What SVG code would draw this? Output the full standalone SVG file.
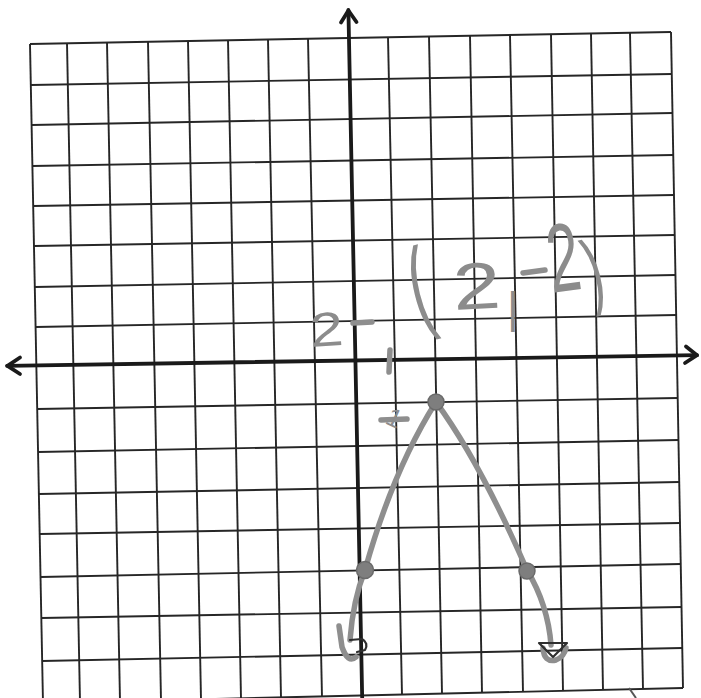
<svg xmlns="http://www.w3.org/2000/svg" width="701" height="698" viewBox="0 0 701 698">
<style>
.g{stroke:#262626;stroke-width:1.9;fill:none}
.ax{stroke:#1a1a1a;stroke-width:3.8;fill:none;stroke-linecap:round;stroke-linejoin:round}
.p{stroke:#8e8e8e;stroke-width:5.5;fill:none;stroke-linecap:round;stroke-linejoin:round}
.pt{fill:#7e7e7e;stroke:#6a6a6a;stroke-width:1.5}
.ink{stroke:#2e2e2e;stroke-width:2.2;fill:none;stroke-linecap:round;stroke-linejoin:round}
.hw{font-family:"Liberation Sans","DejaVu Sans",sans-serif;fill:#8c8c8c}
</style>
<rect width="701" height="698" fill="#ffffff"/>
<g id="grid">
<line class="g" x1="30" y1="44" x2="43" y2="703"/>
<line class="g" x1="67" y1="43.25" x2="80" y2="702.1"/>
<line class="g" x1="107" y1="42.5" x2="120" y2="701.1"/>
<line class="g" x1="148" y1="41.75" x2="161" y2="700.2"/>
<line class="g" x1="188" y1="41" x2="201" y2="699.3"/>
<line class="g" x1="228" y1="40.25" x2="241" y2="698.3"/>
<line class="g" x1="268" y1="39.5" x2="281" y2="697.4"/>
<line class="g" x1="308" y1="38.75" x2="322" y2="696.4"/>
<line class="g" x1="388" y1="37.25" x2="402" y2="694.6"/>
<line class="g" x1="429" y1="36.5" x2="442" y2="693.6"/>
<line class="g" x1="470" y1="35.75" x2="482" y2="692.7"/>
<line class="g" x1="510" y1="35" x2="523" y2="691.75"/>
<line class="g" x1="551" y1="34.25" x2="563" y2="690.8"/>
<line class="g" x1="591" y1="33.5" x2="603" y2="689.9"/>
<line class="g" x1="630" y1="32.75" x2="643" y2="688.9"/>
<line class="g" x1="671" y1="32" x2="683" y2="688"/>
<line class="g" x1="30" y1="44" x2="671" y2="32"/>
<line class="g" x1="30.8" y1="85" x2="671.75" y2="74"/>
<line class="g" x1="31.6" y1="125" x2="672.5" y2="113"/>
<line class="g" x1="32.4" y1="166" x2="673.25" y2="155"/>
<line class="g" x1="33.3" y1="206" x2="674" y2="195"/>
<line class="g" x1="34.1" y1="246" x2="674.75" y2="235"/>
<line class="g" x1="34.9" y1="287" x2="675.5" y2="275"/>
<line class="g" x1="35.7" y1="327" x2="676.25" y2="315"/>
<line class="g" x1="37.3" y1="409" x2="677.75" y2="398"/>
<line class="g" x1="38.1" y1="452" x2="678.5" y2="440"/>
<line class="g" x1="38.9" y1="494" x2="679.25" y2="482"/>
<line class="g" x1="39.8" y1="534" x2="680" y2="523"/>
<line class="g" x1="40.6" y1="577" x2="680.75" y2="564"/>
<line class="g" x1="41.4" y1="618" x2="681.5" y2="607"/>
<line class="g" x1="42.2" y1="661" x2="682.25" y2="648"/>
<line class="g" x1="43" y1="703" x2="683" y2="688"/>
</g>
<g id="axes">
<line class="ax" x1="7" y1="365.8" x2="697" y2="355.2"/>
<polyline class="ax" points="20,357.5 7.5,365.8 20,374"/>
<polyline class="ax" points="686,346.5 697,355.2 685,363"/>
<line class="ax" x1="348.4" y1="10" x2="362.2" y2="698"/>
<polyline class="ax" points="341,22.5 348.4,10.5 356.5,22"/>
</g>
<g id="curve">
<path class="p" d="M436,402 Q393,470 365,570"/>
<path class="p" d="M436,402 Q480,462 527,570"/>
<path class="p" d="M365,570 Q353,600 350,640"/>
<path class="p" d="M527,570 Q548,605 551,645"/>
<path class="p" d="M339,626 L342,647 Q348,664 356,657"/>
<path class="p" d="M543,648 Q544,663 556,660 Q564,657 566,648"/>
<path class="ink" d="M350,640 L362,639 Q369,643 365,650 L357,652"/>
<path class="ink" d="M539,643 L567,643 L553,657 Z"/>
<circle id="pt-vertex" class="pt" cx="436" cy="402" r="8"/>
<circle id="pt-left" class="pt" cx="365" cy="570" r="8.5"/>
<circle id="pt-right" class="pt" cx="527" cy="571" r="8"/>
</g>
<g id="marks">
<line class="p" x1="353" y1="323" x2="372" y2="322" stroke-width="4"/>
<line class="p" x1="390" y1="350" x2="389" y2="372" stroke-width="3.5"/>
<line class="p" x1="381" y1="420" x2="407" y2="419" stroke-width="3"/>
<line class="p" x1="523" y1="273" x2="545" y2="270" stroke-width="3.5"/>
<line x1="629" y1="688" x2="636" y2="698" stroke="#555" stroke-width="2"/>
</g>
<g id="labels">
<text class="hw" transform="translate(311,347) rotate(-4) scale(1.25,1)" font-size="48">2</text>
<text class="hw" transform="translate(384,423) rotate(25)" font-size="26">1</text>
<text class="hw" transform="translate(418,322) rotate(-14) scale(0.55,1)" font-size="104">(</text>
<text class="hw" transform="translate(454,310) rotate(-3) scale(1.3,1)" font-size="66">2</text>
<text class="hw" transform="translate(507,323)" font-size="45">|</text>
<text class="hw" transform="translate(552,293) rotate(-8) scale(0.8,1.35)" font-size="72">2</text>
<text class="hw" transform="translate(592,300) rotate(-14) scale(0.6,1)" font-size="84">)</text>
</g>
</svg>
